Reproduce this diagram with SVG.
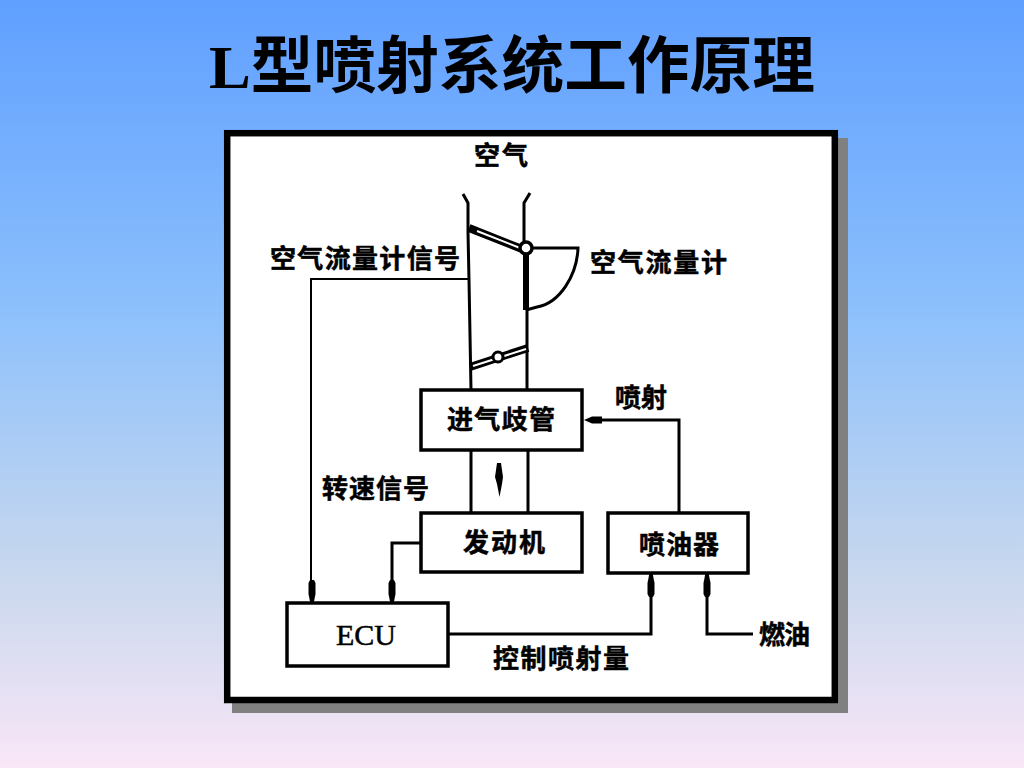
<svg xmlns="http://www.w3.org/2000/svg" width="1024" height="768" viewBox="0 0 1024 768">
<defs>
<linearGradient id="bg" x1="0" y1="0" x2="0" y2="1">
<stop offset="0" stop-color="#5f9fff"/>
<stop offset="0.4" stop-color="#8cc0fc"/>
<stop offset="0.75" stop-color="#c9d8ee"/>
<stop offset="1" stop-color="#f9e6f7"/>
</linearGradient>
<marker id="ah" markerWidth="24" markerHeight="8" refX="23" refY="4" orient="auto" markerUnits="userSpaceOnUse" viewBox="0 0 24 8"><path d="M0 2L3 0.500H14L24 2.500V5.500L14 7.500H3L0 6Z" fill="#000"/></marker>
</defs>
<style>
.box{fill:#fff;stroke:#000;stroke-width:3.5}
.ln{fill:none;stroke:#000;stroke-width:3}
.th{fill:none;stroke:#000;stroke-width:2}
text{fill:#000;font-family:"Noto Sans CJK SC","Noto Sans CJK JP",sans-serif;font-weight:700}
.lb{font-size:26px;stroke:#000;stroke-width:0.5}
.tt{font-size:62px;font-family:"Liberation Serif","Noto Sans CJK SC",serif}
</style>
<rect width="1024" height="768" fill="url(#bg)"/>
<text id="title" class="tt" x="209" y="88" textLength="606" lengthAdjust="spacingAndGlyphs">L型喷射系统工作原理</text>
<g id="panel">
<rect x="232" y="138" width="616" height="575" fill="#808080"/>
<rect x="227.200" y="133.200" width="607.600" height="566.800" fill="#fff" stroke="#000" stroke-width="6.500"/>
</g>
<g id="connectors">
<path class="ln" d="M463 194L468 203V232L469 280L471 390"/>
<path class="ln" d="M530 193L524 203V242M527 310V390"/>
<path class="ln" d="M471 450V513M528 450V513"/>
<path class="th" d="M469 279H311V603"/>
<path class="ln" d="M312 590V603" marker-end="url(#ah)"/>
<path class="ln" d="M421 543H392V603" marker-end="url(#ah)"/>
<path class="ln" d="M448 634H651V574" marker-end="url(#ah)"/>
<path class="ln" d="M753 634H707V574" marker-end="url(#ah)"/>
<path class="ln" d="M679 512V420H590"/>
<path d="M584 420L592 416.500H602V423.500H592Z" fill="#000"/>
<path d="M497 463H501L503 477L502 484L499.500 497L497 484L495 477Z" fill="#000"/>
</g>
<g id="throttle">
<path d="M469 228L522 249" fill="none" stroke="#000" stroke-width="8"/>
<path d="M477 231L520 248" fill="none" stroke="#fff" stroke-width="2"/>
<path d="M470 367L528 348" fill="none" stroke="#000" stroke-width="8"/>
<path d="M473 366L526 349" fill="none" stroke="#fff" stroke-width="2"/>
<circle cx="498" cy="357" r="5" fill="#fff" stroke="#000" stroke-width="3"/>
</g>
<g id="flowmeter">
<path d="M526 252V310" fill="none" stroke="#000" stroke-width="6"/>
<path class="ln" d="M530 248H578C577 275 560 303 537 307L526 310"/>
<circle cx="526" cy="248" r="6" fill="#fff" stroke="#000" stroke-width="3.500"/>
</g>
<g id="intake"><rect class="box" x="421" y="390" width="161" height="60"/><text class="lb" x="501" y="429" text-anchor="middle" textLength="108">进气歧管</text></g>
<g id="engine"><rect class="box" x="421" y="513" width="161" height="59"/><text class="lb" x="504" y="552" text-anchor="middle" textLength="82">发动机</text></g>
<g id="injector"><rect class="box" x="608" y="513" width="140" height="60"/><text class="lb" x="679" y="554" text-anchor="middle" textLength="80">喷油器</text></g>
<g id="ecu"><rect class="box" x="287" y="603" width="161" height="63"/><text x="366" y="645" text-anchor="middle" stroke="#000" stroke-width="0.500" style="font-family:'Liberation Serif',serif;font-size:30px;font-weight:400">ECU</text></g>
<g id="labels">
<text class="lb" x="501" y="165" text-anchor="middle" textLength="54">空气</text>
<text class="lb" x="270" y="268" textLength="190">空气流量计信号</text>
<text class="lb" x="590" y="272" textLength="137">空气流量计</text>
<text class="lb" x="615" y="407" textLength="52">喷射</text>
<text class="lb" x="322" y="498" textLength="107">转速信号</text>
<text class="lb" x="759" y="644" textLength="51">燃油</text>
<text class="lb" x="493" y="668" textLength="136">控制喷射量</text>
</g>
</svg>
